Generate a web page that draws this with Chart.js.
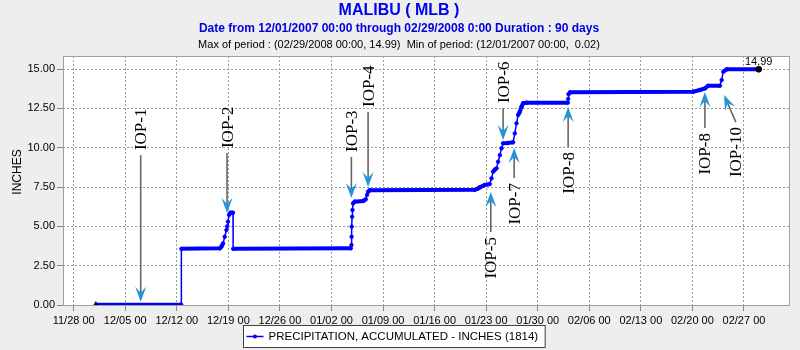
<!DOCTYPE html>
<html>
<head>
<meta charset="utf-8">
<title>MALIBU ( MLB )</title>
<script src="https://cdn.jsdelivr.net/npm/chart.js@4.4.1/dist/chart.umd.min.js"></script>
<style>
  html, body { margin: 0; padding: 0; background: #eeeeee; }
  #wrap { width: 800px; height: 350px; position: relative; }
</style>
</head>
<body>
<div id="wrap"><canvas id="chart" width="800" height="350"></canvas></div>
<script>
// Station and period
const stationTitle = 'MALIBU ( MLB )';
const periodText = 'Date from 12/01/2007 00:00 through 02/29/2008 0:00 Duration : 90 days';
const seriesLabel = 'PRECIPITATION, ACCUMULATED - INCHES (1814)';
const periodStartUTC = Date.UTC(2007, 11, 1); // 12/01/2007 00:00

// Accumulated precipitation: days since period start, inches
const dayOffsets = [
  0, 11.6, 11.62, 16.83, 17.06, 17.28, 17.51, 17.74, 17.85, 17.95, 18.09, 18.28, 18.63, 18.65,
  34.62, 34.71, 34.73, 34.75, 34.80, 34.85, 34.93, 35.16, 36.29, 36.66, 36.83, 36.97, 37.2,
  51.46, 51.87, 52.14, 52.82, 53.49, 53.73, 53.94, 54.17, 54.41, 54.62, 54.86, 55.09, 55.30,
  55.94, 56.66, 56.89, 57.12, 57.34, 57.57, 57.80, 58.02, 58.48,
  64.09, 64.13, 64.18, 64.4, 81.11, 82.02, 82.70, 83.15, 84.74, 84.97, 85.19, 85.65, 90.0
];
const inches = [
  0.02, 0.02, 3.57, 3.60, 3.71, 3.92, 4.34, 4.77, 5.00, 5.30, 5.72, 5.87, 5.87, 3.57,
  3.60, 3.81, 4.34, 4.98, 5.61, 6.04, 6.46, 6.57, 6.61, 6.72, 7.00, 7.20, 7.30,
  7.32, 7.40, 7.48, 7.63, 7.69, 8.05, 8.47, 8.60, 8.69, 9.11, 9.53, 9.96, 10.28,
  10.30, 10.34, 10.91, 11.55, 12.08, 12.29, 12.60, 12.82, 12.86,
  12.86, 13.10, 13.40, 13.52, 13.56, 13.67, 13.77, 13.94, 13.94, 14.30, 14.83, 14.98, 14.99
];

// Axis ticks
const yTickValues = [0, 2.5, 5, 7.5, 10, 12.5, 15];
const xTickDays = [-3, 4, 11, 18, 25, 32, 39, 46, 53, 60, 67, 74, 81, 88];

// Intensive observing period markers
const iopLabels      = ['IOP-1', 'IOP-2', 'IOP-3', 'IOP-4', 'IOP-5', 'IOP-6', 'IOP-7', 'IOP-8', 'IOP-8', 'IOP-10'];
const iopTipDays     = [6.1, 17.82, 34.7, 36.97, 53.63, 55.3, 56.8, 64.13, 82.7, 85.3];
const iopTipInches   = [0.21, 5.85, 6.80, 7.50, 7.18, 10.49, 9.98, 12.58, 13.54, 13.35];
const iopTailDays    = [6.1, 17.82, 34.7, 36.97, 53.63, 55.3, 56.8, 64.13, 82.7, 86.9];
const iopTailInches  = [9.53, 9.66, 9.41, 12.27, 4.64, 12.52, 8.07, 10.04, 11.25, 11.63];

const SANS = '"Liberation Sans", Arial, sans-serif';
const SERIF = '"Liberation Serif", "Times New Roman", serif';

function pad2(n) { return String(n).padStart(2, '0'); }
function dateOf(day) { return new Date(periodStartUTC + day * 86400000); }
function tickDate(day) {
  const d = dateOf(day);
  return pad2(d.getUTCMonth() + 1) + '/' + pad2(d.getUTCDate()) + ' ' + pad2(d.getUTCHours());
}
function fullDate(day) {
  const d = dateOf(day);
  return pad2(d.getUTCMonth() + 1) + '/' + pad2(d.getUTCDate()) + '/' + d.getUTCFullYear() +
    ' ' + pad2(d.getUTCHours()) + ':' + pad2(d.getUTCMinutes());
}

const points = dayOffsets.map((d, i) => ({ x: d, y: inches[i] }));
const lastIndex = points.length - 1;

let maxI = 0, minI = 0;
inches.forEach((v, i) => { if (v >= inches[maxI]) maxI = i; if (v < inches[minI]) minI = i; });
const statsText = 'Max of period : (' + fullDate(dayOffsets[maxI]) + ', ' + inches[maxI].toFixed(2) + ')  ' +
  'Min of period: (' + fullDate(dayOffsets[minI]) + ',  ' + inches[minI].toFixed(2) + ')';

const decor = {
  id: 'decor',
  beforeDraw(chart) {
    const { ctx, chartArea: a } = chart;
    ctx.save();
    ctx.fillStyle = '#eeeeee';
    ctx.fillRect(0, 0, chart.width, chart.height);
    ctx.fillStyle = '#ffffff';
    ctx.fillRect(a.left, a.top, a.right - a.left, a.bottom - a.top);
    ctx.restore();
  },
  afterDraw(chart) {
    const { ctx, chartArea: a, scales } = chart;
    const xs = scales.x, ys = scales.y;
    ctx.save();

    // plot frame
    ctx.strokeStyle = '#a0a0a0';
    ctx.lineWidth = 1;
    ctx.strokeRect(a.left + 0.5, a.top + 0.5, a.right - a.left - 1, a.bottom - a.top);

    // titles
    ctx.textAlign = 'center';
    ctx.textBaseline = 'middle';
    ctx.fillStyle = '#0000f0';
    ctx.font = 'bold 16px ' + SANS;
    ctx.fillText(stationTitle, 399, 11);
    ctx.fillStyle = '#0000e0';
    ctx.font = 'bold 12px ' + SANS;
    ctx.fillText(periodText, 399, 29);
    ctx.fillStyle = '#000000';
    ctx.font = '11px ' + SANS;
    ctx.fillText(statsText, 399, 45);

    // y axis title
    ctx.save();
    ctx.translate(18, 172);
    ctx.rotate(-Math.PI / 2);
    ctx.font = '12px ' + SANS;
    ctx.fillText('INCHES', 0, 0);
    ctx.restore();

    // value of the last point
    const meta = chart.getDatasetMeta(0);
    const lp = meta.data[lastIndex];
    ctx.font = '11px ' + SANS;
    ctx.fillStyle = '#000';
    ctx.fillText(inches[lastIndex].toFixed(2), lp.x, lp.y - 7);

    // IOP arrows
    iopLabels.forEach((label, i) => {
      const tx = xs.getPixelForValue(iopTipDays[i]);
      const ty = ys.getPixelForValue(iopTipInches[i]);
      const sx = xs.getPixelForValue(iopTailDays[i]);
      const sy = ys.getPixelForValue(iopTailInches[i]);
      const len = Math.hypot(tx - sx, ty - sy);
      const ux = (tx - sx) / len, uy = (ty - sy) / len;
      const nx = -uy, ny = ux;
      ctx.strokeStyle = '#666666';
      ctx.lineWidth = 1.6;
      ctx.beginPath();
      ctx.moveTo(sx, sy);
      ctx.lineTo(tx - ux * 9, ty - uy * 9);
      ctx.stroke();
      ctx.fillStyle = '#1e96dc';
      ctx.beginPath();
      ctx.moveTo(tx, ty);
      ctx.lineTo(tx - ux * 15 + nx * 5.5, ty - uy * 15 + ny * 5.5);
      ctx.lineTo(tx - ux * 9, ty - uy * 9);
      ctx.lineTo(tx - ux * 15 - nx * 5.5, ty - uy * 15 - ny * 5.5);
      ctx.closePath();
      ctx.fill();

      const pointsDown = ty > sy;
      ctx.save();
      ctx.fillStyle = '#000';
      ctx.font = '17px ' + SERIF;
      ctx.textBaseline = 'middle';
      ctx.translate(sx, pointsDown ? sy - 5 : sy + 5);
      ctx.rotate(-Math.PI / 2);
      ctx.textAlign = pointsDown ? 'left' : 'right';
      ctx.fillText(label, 0, 1);
      ctx.restore();
    });

    // legend box
    ctx.font = '11.5px ' + SANS;
    const tw = ctx.measureText(seriesLabel).width;
    const w = 25 + tw + 7;
    const left = Math.round(394 - w / 2) + 0.5;
    const top = 325.5, h = 22;
    ctx.fillStyle = '#ffffff';
    ctx.fillRect(left, top, w, h);
    ctx.strokeStyle = '#404040';
    ctx.lineWidth = 1;
    ctx.strokeRect(left, top, w, h);
    const my = top + h / 2;
    ctx.strokeStyle = '#0000ff';
    ctx.lineWidth = 1.5;
    ctx.beginPath();
    ctx.moveTo(left + 3, my);
    ctx.lineTo(left + 20, my);
    ctx.stroke();
    ctx.fillStyle = '#0000ff';
    ctx.beginPath();
    ctx.arc(left + 11.5, my, 2, 0, Math.PI * 2);
    ctx.fill();
    ctx.fillStyle = '#000';
    ctx.textAlign = 'left';
    ctx.textBaseline = 'middle';
    ctx.fillText(seriesLabel, left + 25, my + 0.5);

    ctx.restore();
  }
};

const gridCommon = {
  color: '#9a9a9a',
  lineWidth: 1,
  drawTicks: true,
  tickLength: 6,
  tickColor: '#8a8a8a',
  tickBorderDash: []
};

new Chart(document.getElementById('chart'), {
  type: 'line',
  data: {
    datasets: [{
      label: seriesLabel,
      data: points,
      borderColor: '#0000ff',
      backgroundColor: '#0000ff',
      borderWidth: 4,
      fill: false,
      tension: 0,
      pointStyle: ctx => ctx.dataIndex === 0 ? 'triangle' : 'circle',
      pointRadius: ctx => (ctx.dataIndex === 0 || ctx.dataIndex === lastIndex) ? 3 : 1.8,
      pointBackgroundColor: ctx => (ctx.dataIndex === 0 || ctx.dataIndex === lastIndex) ? '#000' : '#0000ff',
      pointBorderColor: ctx => (ctx.dataIndex === 0 || ctx.dataIndex === lastIndex) ? '#000' : '#0000ff',
      pointBorderWidth: 0.8,
      segment: {
        borderWidth: ctx => {
          const dx = Math.abs(ctx.p1.x - ctx.p0.x);
          const dy = Math.abs(ctx.p1.y - ctx.p0.y);
          return dy > 3 * dx ? 1.5 : 4;
        }
      }
    }]
  },
  options: {
    responsive: false,
    animation: false,
    devicePixelRatio: 1,
    layout: { padding: { left: 0, right: 10, top: 56, bottom: 0 } },
    plugins: {
      legend: { display: false },
      title: { display: false },
      tooltip: { enabled: false }
    },
    scales: {
      x: {
        type: 'linear',
        min: -4.45,
        max: 94.25,
        afterBuildTicks: s => { s.ticks = xTickDays.map(v => ({ value: v })); },
        afterFit: s => { s.height = 45; },
        grid: gridCommon,
        border: { display: false, dash: [2, 2] },
        ticks: {
          autoSkip: false,
          maxRotation: 0,
          padding: 3,
          color: '#000',
          font: { family: SANS, size: 11 },
          callback: v => tickDate(v)
        }
      },
      y: {
        type: 'linear',
        min: 0,
        max: 15.83,
        afterBuildTicks: s => { s.ticks = yTickValues.map(v => ({ value: v })); },
        afterFit: s => { s.width = 63; },
        grid: gridCommon,
        border: { display: false, dash: [2, 2] },
        ticks: {
          padding: 2,
          color: '#000',
          font: { family: SANS, size: 11 },
          callback: v => Number(v).toFixed(2)
        }
      }
    }
  },
  plugins: [decor]
});
</script>
</body>
</html>
